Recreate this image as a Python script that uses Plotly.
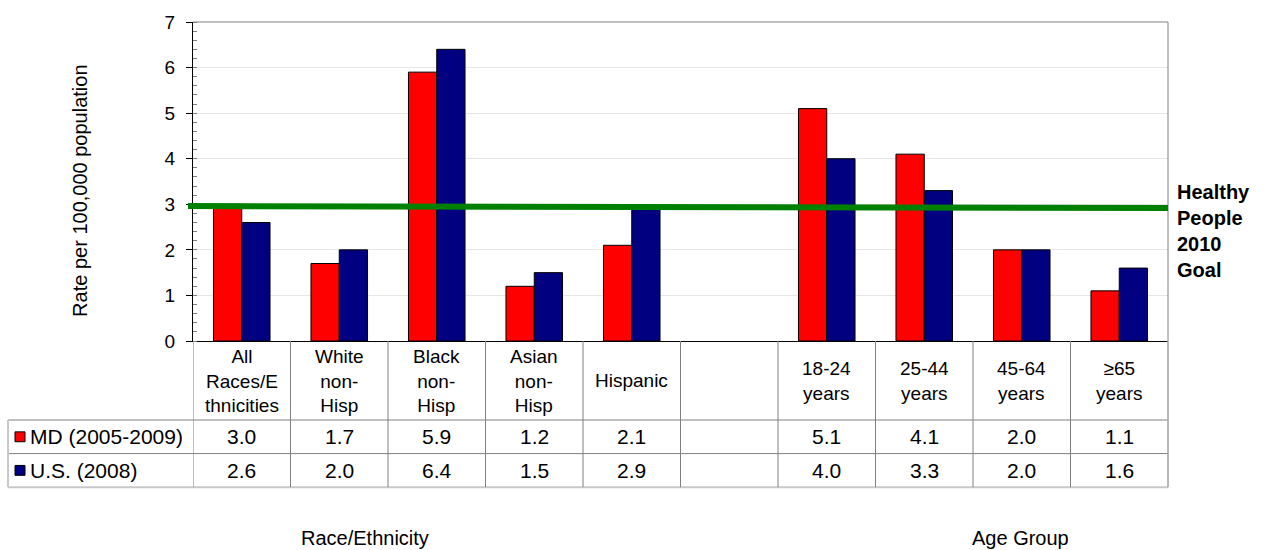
import plotly.graph_objects as go

# Category labels (row header of the data table)
categories = ["All<br>Races/E<br>thnicities", "White<br>non-<br>Hisp", "Black<br>non-<br>Hisp",
              "Asian<br>non-<br>Hisp", "Hispanic", "", "18-24<br>years", "25-44<br>years",
              "45-64<br>years", "≥65<br>years"]

# Rates per 100,000 population
md_rates = [3.0, 1.7, 5.9, 1.2, 2.1, None, 5.1, 4.1, 2.0, 1.1]
us_rates = [2.6, 2.0, 6.4, 1.5, 2.9, None, 4.0, 3.3, 2.0, 1.6]

series_names = ["MD (2005-2009)", "U.S. (2008)"]
series_colors = ["#ff0000", "#000080"]

# Healthy People 2010 goal line (start / end level)
goal_levels = [2.96, 2.92]
goal_label = "Healthy<br>People<br>2010<br>Goal"

group_titles = ["Race/Ethnicity", "Age Group"]

FONT = "Liberation Sans, Arial, sans-serif"
W, H = 1273, 550
L, R, T, B = 193, 105, 18, 209
PW, PH = W - L - R, H - T - B
X_AXIS_PX = T + PH  # pixel row of the x axis


def py(p):
    """Pixel row -> paper y."""
    return (X_AXIS_PX - p) / PH


def px(p):
    """Pixel column -> paper x."""
    return (p - L) / PW


xs = list(range(len(categories)))

fig = go.Figure()
for name, vals, col in zip(series_names, [md_rates, us_rates], series_colors):
    fig.add_trace(go.Bar(
        x=xs, y=vals, name=name,
        marker=dict(color=col, line=dict(color="black", width=1)),
        showlegend=False,
    ))

shapes = []
annotations = []

# plot frame (top and right)
shapes.append(dict(type="line", xref="paper", yref="paper", x0=0, x1=1, y0=1, y1=1,
                   line=dict(color="#808080", width=1)))
shapes.append(dict(type="line", xref="paper", yref="paper", x0=1, x1=1, y0=0, y1=1,
                   line=dict(color="#808080", width=1)))

# goal line
shapes.append(dict(type="line", xref="paper", yref="y", x0=px(188), x1=1,
                   y0=goal_levels[0], y1=goal_levels[1],
                   line=dict(color="#008000", width=6)))
annotations.append(dict(xref="paper", yref="paper", x=px(1175), y=py(177),
                        text="<b>" + goal_label + "</b>", showarrow=False,
                        xanchor="left", yanchor="top", align="left",
                        font=dict(family=FONT, size=20, color="black")))

# data table
ROW_HEAD = 421
ROW1 = 455
ROW_END = 489
TABLE_LEFT = 8
grid = dict(color="#808080", width=1)
outer = dict(color="#c8c8c8", width=2)

for yy in [ROW_HEAD, ROW1]:
    shapes.append(dict(type="line", xref="paper", yref="paper", x0=px(TABLE_LEFT), x1=1,
                       y0=py(yy), y1=py(yy), line=grid))
shapes.append(dict(type="line", xref="paper", yref="paper", x0=px(TABLE_LEFT), x1=1,
                   y0=py(ROW_END), y1=py(ROW_END), line=outer))
shapes.append(dict(type="line", xref="paper", yref="paper", x0=px(TABLE_LEFT), x1=px(TABLE_LEFT),
                   y0=py(ROW_HEAD), y1=py(ROW_END), line=outer))
for i in range(len(categories)):
    shapes.append(dict(type="line", xref="x", yref="paper", x0=i - 0.5, x1=i - 0.5,
                       y0=0, y1=py(ROW_END), line=grid))
shapes.append(dict(type="line", xref="paper", yref="paper", x0=1, x1=1,
                   y0=0, y1=py(ROW_END), line=dict(color="#a0a0a0", width=1.5)))

row_centers = [(ROW_HEAD + ROW1) / 2, (ROW1 + ROW_END) / 2]
for i, cat in enumerate(categories):
    if cat:
        annotations.append(dict(xref="x", yref="paper", x=i, y=py((X_AXIS_PX + ROW_HEAD) / 2),
                                text=cat, showarrow=False, xanchor="center", yanchor="middle",
                                align="center", font=dict(family=FONT, size=19, color="black")))
    for vals, rc in zip([md_rates, us_rates], row_centers):
        if vals[i] is not None:
            annotations.append(dict(xref="x", yref="paper", x=i, y=py(rc),
                                    text=f"{vals[i]:.1f}", showarrow=False,
                                    xanchor="center", yanchor="middle",
                                    font=dict(family=FONT, size=21, color="black")))

# legend keys in the table rows
for name, col, rc in zip(series_names, series_colors, row_centers):
    shapes.append(dict(type="rect", xref="paper", yref="paper",
                       x0=px(15), x1=px(25), y0=py(rc + 5), y1=py(rc - 5),
                       fillcolor=col, line=dict(color="black", width=1)))
    annotations.append(dict(xref="paper", yref="paper", x=px(28), y=py(rc),
                            text=name, showarrow=False, xanchor="left", yanchor="middle",
                            font=dict(family=FONT, size=21, color="black")))

# group titles
for title, cx in zip(group_titles, [365, 1020]):
    annotations.append(dict(xref="paper", yref="paper", x=px(cx), y=py(540),
                            text=title, showarrow=False, xanchor="center", yanchor="middle",
                            font=dict(family=FONT, size=20, color="black")))

# y axis title
annotations.append(dict(xref="paper", yref="paper", x=px(80), y=py(189),
                        text="Rate per 100,000 population", showarrow=False, textangle=-90,
                        xanchor="center", yanchor="middle",
                        font=dict(family=FONT, size=20, color="black")))

fig.update_layout(
    width=W, height=H,
    margin=dict(l=L, r=R, t=T, b=B, pad=0),
    paper_bgcolor="white", plot_bgcolor="white",
    barmode="group", bargap=0.42, bargroupgap=0,
    font=dict(family=FONT, color="black"),
    shapes=shapes, annotations=annotations,
    xaxis=dict(range=[-0.5, len(categories) - 0.5], showticklabels=False, ticks="",
               showgrid=False, zeroline=False, showline=True, linecolor="black", linewidth=1),
    yaxis=dict(range=[0, 7], dtick=1, showgrid=True, gridcolor="#e6e6e6", gridwidth=1,
               zeroline=False, showline=True, linecolor="black", linewidth=1,
               ticks="outside", ticklen=6, tickcolor="black", ticklabelstandoff=7,
               tickfont=dict(family=FONT, size=19, color="black"),
               minor=dict(dtick=0.2, ticks="inside", ticklen=4, tickcolor="#808080", showgrid=False)),
)

fig.write_html("out.html")
